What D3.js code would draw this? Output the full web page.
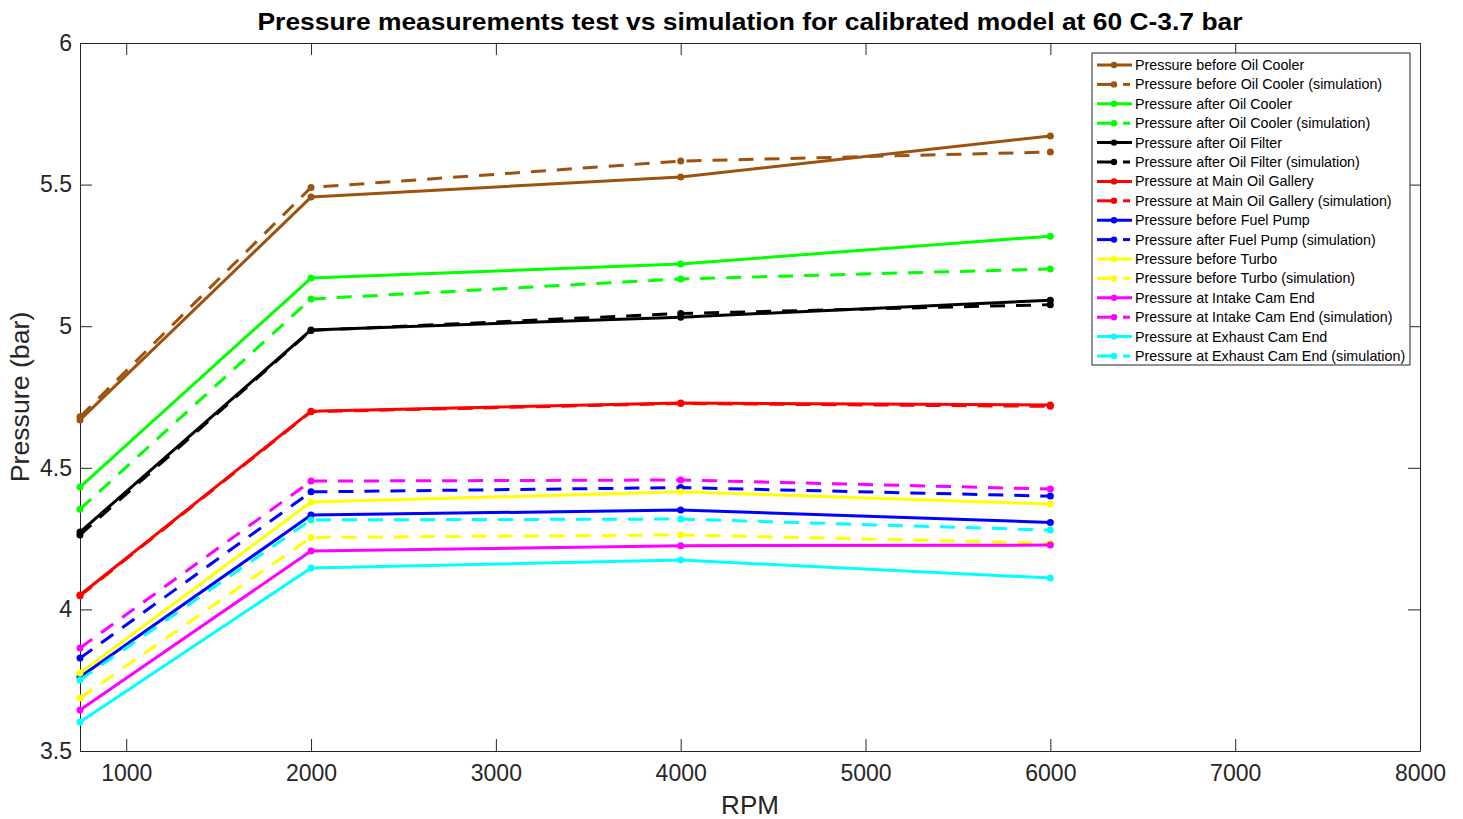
<!DOCTYPE html>
<html>
<head>
<meta charset="utf-8">
<script src="https://cdn.jsdelivr.net/npm/d3@7"></script>
<style>
  html, body { margin: 0; padding: 0; background: #fff; }
  svg { display: block; font-family: "Liberation Sans", Arial, Helvetica, sans-serif; }
</style>
</head>
<body>
<svg id="chart" width="1463" height="819"></svg>
<script>
// ---- Data ----
const rpm = [750, 2000, 4000, 6000];
const xTicks = [1000, 2000, 3000, 4000, 5000, 6000, 7000, 8000];
const yTicks = [3.5, 4, 4.5, 5, 5.5, 6];

const beforeOilCooler      = [4.669, 5.456, 5.527, 5.672];
const beforeOilCoolerSim   = [4.680, 5.490, 5.583, 5.615];
const afterOilCooler       = [4.432, 5.170, 5.220, 5.318];
const afterOilCoolerSim    = [4.354, 5.096, 5.167, 5.202];
const afterOilFilter       = [4.273, 4.987, 5.032, 5.092];
const afterOilFilterSim    = [4.263, 4.985, 5.045, 5.076];
const mainOilGallery       = [4.051, 4.700, 4.729, 4.722];
const mainOilGallerySim    = [4.048, 4.698, 4.727, 4.717];
const beforeFuelPump       = [3.761, 4.333, 4.351, 4.307];
const afterFuelPumpSim     = [3.828, 4.415, 4.430, 4.400];
const beforeTurbo          = [3.775, 4.379, 4.415, 4.372];
const beforeTurboSim       = [3.687, 4.254, 4.263, 4.234];
const intakeCamEnd         = [3.645, 4.206, 4.225, 4.227];
const intakeCamEndSim      = [3.864, 4.453, 4.457, 4.425];
const exhaustCamEnd        = [3.602, 4.146, 4.174, 4.111];
const exhaustCamEndSim     = [3.751, 4.316, 4.319, 4.280];

const seriesNames = [
  "Pressure before Oil Cooler", "Pressure before Oil Cooler (simulation)",
  "Pressure after Oil Cooler", "Pressure after Oil Cooler (simulation)",
  "Pressure after Oil Filter", "Pressure after Oil Filter (simulation)",
  "Pressure at Main Oil Gallery", "Pressure at Main Oil Gallery (simulation)",
  "Pressure before Fuel Pump", "Pressure after Fuel Pump (simulation)",
  "Pressure before Turbo", "Pressure before Turbo (simulation)",
  "Pressure at Intake Cam End", "Pressure at Intake Cam End (simulation)",
  "Pressure at Exhaust Cam End", "Pressure at Exhaust Cam End (simulation)"
];
const seriesValues = [
  beforeOilCooler, beforeOilCoolerSim, afterOilCooler, afterOilCoolerSim,
  afterOilFilter, afterOilFilterSim, mainOilGallery, mainOilGallerySim,
  beforeFuelPump, afterFuelPumpSim, beforeTurbo, beforeTurboSim,
  intakeCamEnd, intakeCamEndSim, exhaustCamEnd, exhaustCamEndSim
];
const seriesColors = [
  "#9E520F", "#9E520F", "#00FF00", "#00FF00", "#000000", "#000000",
  "#FF0000", "#FF0000", "#0000FF", "#0000FF", "#FFFF00", "#FFFF00",
  "#FF00FF", "#FF00FF", "#00FFFF", "#00FFFF"
];
const seriesDashed = seriesNames.map(n => n.includes("(simulation)"));

const titleText = "Pressure measurements test vs simulation for calibrated model at 60 C-3.7 bar";
const xLabel = "RPM";
const yLabel = "Pressure (bar)";

// ---- Layout ----
const svg = d3.select("#chart");
const L = 80, R = 1420, T = 43, B = 751;
const axisColor = "#262626";
const tickLen = 12;

const x = d3.scaleLinear().domain([750, 8000]).range([L, R]);
const y = d3.scaleLinear().domain([3.5, 6]).range([B, T]);

// Title
svg.append("text")
  .attr("x", 750).attr("y", 30)
  .attr("text-anchor", "middle")
  .attr("textLength", 985)
  .attr("lengthAdjust", "spacingAndGlyphs")
  .style("font-size", "23px").style("font-weight", "bold")
  .attr("fill", "#000")
  .text(titleText);

// Axes (MATLAB style box with inward ticks)
const fmt = d => d3.format("")(d);
const gxB = svg.append("g").attr("transform", `translate(0,${B})`)
  .call(d3.axisBottom(x).tickValues(xTicks).tickSizeInner(-tickLen).tickSizeOuter(0).tickPadding(22).tickFormat(fmt));
const gxT = svg.append("g").attr("transform", `translate(0,${T})`)
  .call(d3.axisTop(x).tickValues(xTicks).tickSizeInner(-tickLen).tickSizeOuter(0).tickFormat(""));
const gyL = svg.append("g").attr("transform", `translate(${L},0)`)
  .call(d3.axisLeft(y).tickValues(yTicks).tickSizeInner(-tickLen).tickSizeOuter(0).tickPadding(8).tickFormat(d3.format("")));
const gyR = svg.append("g").attr("transform", `translate(${R},0)`)
  .call(d3.axisRight(y).tickValues(yTicks).tickSizeInner(-tickLen).tickSizeOuter(0).tickFormat(""));

[gxB, gxT, gyL, gyR].forEach(g => {
  g.select(".domain").attr("stroke", axisColor).attr("stroke-width", 1);
  g.selectAll(".tick line").attr("stroke", axisColor).attr("stroke-width", 1);
  g.selectAll(".tick text").attr("fill", axisColor)
    .style("font-size", "23px").style("font-family", "'Liberation Sans', Arial, sans-serif");
});
gxB.selectAll(".tick text").attr("dy", "0.35em").attr("y", 22);

// Axis labels
svg.append("text")
  .attr("x", (L + R) / 2).attr("y", 814)
  .attr("text-anchor", "middle")
  .attr("fill", axisColor)
  .style("font-size", "26px")
  .text(xLabel);
svg.append("text")
  .attr("transform", `translate(29,${(T + B) / 2}) rotate(-90)`)
  .attr("text-anchor", "middle")
  .attr("fill", axisColor)
  .style("font-size", "26.7px")
  .text(yLabel);

// Lines
const line = d3.line().x((d, i) => x(rpm[i])).y(d => y(d));
const plot = svg.append("g");
seriesValues.forEach((vals, k) => {
  plot.append("path")
    .datum(vals)
    .attr("d", line)
    .attr("fill", "none")
    .attr("stroke", seriesColors[k])
    .attr("stroke-width", 3)
    .attr("stroke-linejoin", "round")
    .attr("stroke-dasharray", seriesDashed[k] ? "15,11" : null);
  plot.selectAll(null)
    .data(vals)
    .enter().append("circle")
    .attr("cx", (d, i) => x(rpm[i]))
    .attr("cy", d => y(d))
    .attr("r", 3.5)
    .attr("fill", seriesColors[k]);
});

// Legend
const lgX = 1092, lgY = 53, lgW = 318, lgH = 312;
const lg = svg.append("g");
lg.append("rect")
  .attr("x", lgX).attr("y", lgY).attr("width", lgW).attr("height", lgH)
  .attr("fill", "#fff").attr("stroke", axisColor).attr("stroke-width", 1);
const rowH = 19.4;
seriesNames.forEach((name, k) => {
  const cy = lgY + 12 + k * rowH;
  const c = seriesColors[k];
  if (seriesDashed[k]) {
    lg.append("line").attr("x1", lgX + 5).attr("x2", lgX + 20).attr("y1", cy).attr("y2", cy)
      .attr("stroke", c).attr("stroke-width", 3);
    lg.append("line").attr("x1", lgX + 31).attr("x2", lgX + 38).attr("y1", cy).attr("y2", cy)
      .attr("stroke", c).attr("stroke-width", 3);
  } else {
    lg.append("line").attr("x1", lgX + 5).attr("x2", lgX + 40).attr("y1", cy).attr("y2", cy)
      .attr("stroke", c).attr("stroke-width", 3);
  }
  lg.append("circle").attr("cx", lgX + 22).attr("cy", cy).attr("r", 3.2).attr("fill", c);
  lg.append("text")
    .attr("x", lgX + 43).attr("y", cy).attr("dy", "0.35em")
    .attr("fill", "#000")
    .style("font-size", "14.3px")
    .text(name);
});
</script>
</body>
</html>
